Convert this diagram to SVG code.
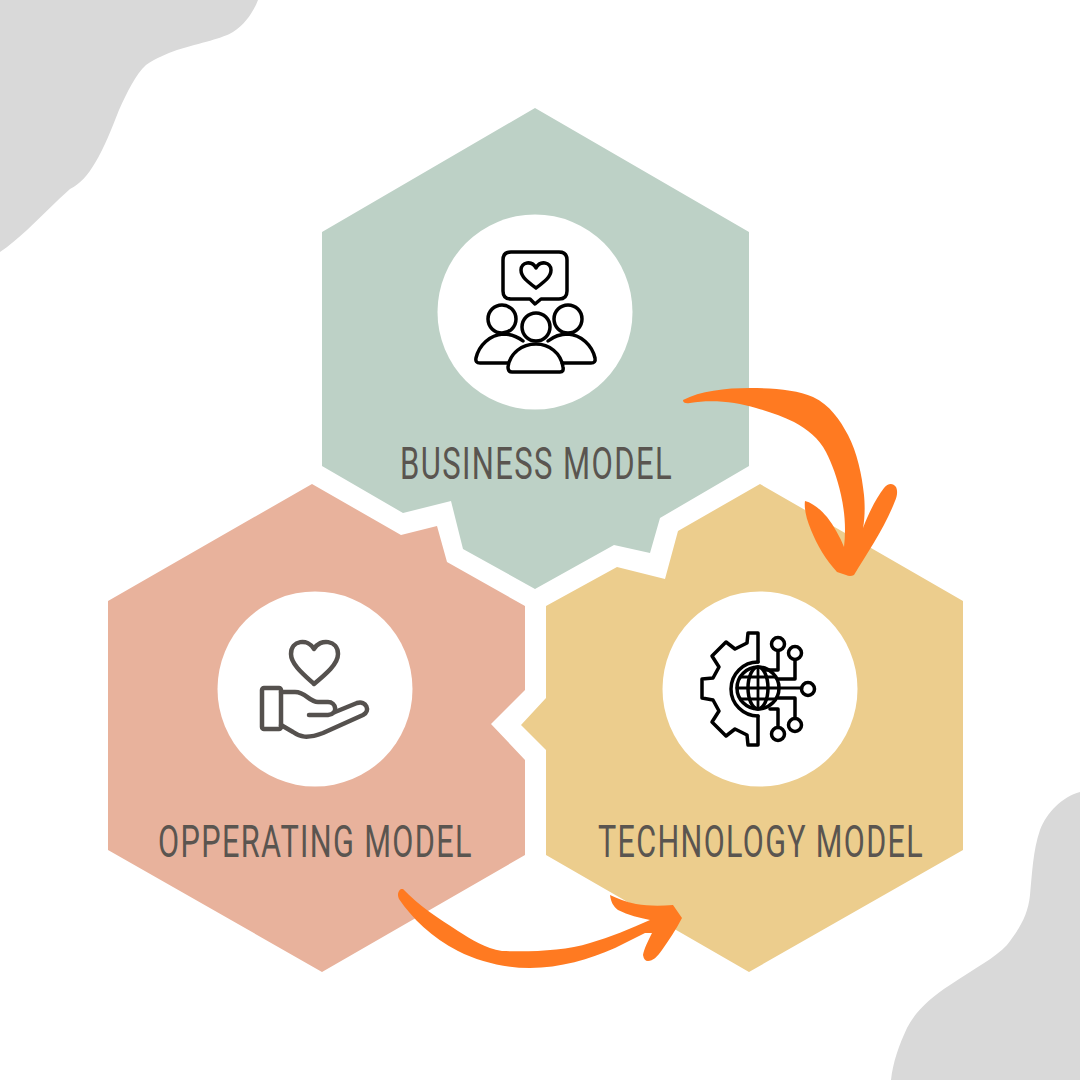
<svg xmlns="http://www.w3.org/2000/svg" width="1080" height="1080" viewBox="0 0 1080 1080">
<style>
.blob{fill:#d9d9d9}
.disc{fill:#fff}
.lbl{font-family:"Roboto","Liberation Sans",sans-serif;font-size:45px;letter-spacing:2px;fill:#5a5550}
.ico{fill:none;stroke:#000;stroke-width:3.500;stroke-linecap:round;stroke-linejoin:round}
.ico2{fill:none;stroke:#55514e;stroke-width:4.500;stroke-linecap:round;stroke-linejoin:round}
.arrow{fill:#ff7a21}
</style>
<rect width="1080" height="1080" fill="#fff"/>
<path class="blob" d="M0 0H258C253 13 244 25 233 32C224 38 200 43 177 50C166 54 156 58 146 65C136 74 127 92 119 110C112 128 104 148 95 163C88 175 80 184 70 189C55 202 42 216 27 230C18 238 9 246 0 252Z"/>
<path class="blob" d="M1080 792C1062 797 1047 812 1040 830C1033 850 1032 875 1030 895C1028 915 1020 928 1007 945C995 958 975 968 950 985C930 998 915 1012 907 1028C899 1045 893 1062 891 1080H1080Z"/>
<g id="node-business">
<polygon fill="#bdd1c6" points="535,108 749,232 749,466 660,518 650,553 614,545 535,589 463,549 451,501 403,513 322,466 322,232"/>
<circle class="disc" cx="535" cy="312" r="97.500"/>
<g class="ico">
<path d="M511 252H559Q567 252 567 260V291Q567 299 559 299H541L535 304L530 299H511Q503 299 503 291V260Q503 252 511 252Z"/>
<path d="M536 288C528 282 521 277 521 270C521 262 532 260 536 268C540 260 551 262 551 270C551 277 544 282 536 288Z"/>
<circle cx="502" cy="319" r="14"/>
<circle cx="536" cy="327" r="14"/>
<circle cx="568" cy="319" r="14"/>
<path d="M508 363H480Q475 363 476 358C479 345 490 335 503 334C512 334 518 337 523 341"/>
<path d="M562 363H591Q596 363 595 358C592 345 581 335 568 334C559 334 553 337 548 341"/>
<path d="M512 372H560Q564 372 563 367C561 353 549 344 536 344C522 344 510 353 508 367Q508 372 512 372Z"/>
</g>
<text class="lbl" x="400" y="479" textLength="273" lengthAdjust="spacingAndGlyphs">BUSINESS MODEL</text>
</g>
<g id="node-operating">
<polygon fill="#e8b29c" points="312,484 401,535 437,526 447,562 525,606 525,690 491,724 525,760 525,855 322,972 108,850 108,601"/>
<circle class="disc" cx="315" cy="689" r="97.500"/>
<g class="ico2">
<path d="M314 684C303 674 291 664 291 654C291 640 308 638 314 649C320 638 338 640 338 654C338 664 326 674 314 684Z"/>
<rect x="262" y="688" width="19" height="41" rx="2"/>
<path d="M281 692H295C306 692 309 702 318 702H328C336 702 339 714 328 715H309"/>
<path d="M335 712L357 703C366 700 371 711 363 715L323 733C307 739 300 737 293 732L281 725"/>
</g>
<text class="lbl" x="158" y="857" textLength="315" lengthAdjust="spacingAndGlyphs">OPPERATING MODEL</text>
</g>
<g id="node-technology">
<polygon fill="#eccd8d" points="760,484 963,601 963,850 749,972 546,855 546,750 521,725 546,698 546,606 617,567 665,579 678,531"/>
<circle class="disc" cx="760" cy="689" r="97.500"/>
<g class="ico" stroke-linecap="butt">
<path d="M758 662V633H748L747 643L735 649L726 642L712 656L719 667L713 678L702 679V698L713 700L719 711L712 722L726 736L735 729L747 735L748 745H758V716"/>
<path d="M758 662A27 27 0 0 0 758 716"/>
<circle cx="758" cy="688" r="21"/>
<ellipse cx="758" cy="688" rx="10" ry="21"/>
<path d="M758 667V709M737 688H802M741 677H775M741 699H775" stroke-width="2.800"/>
<circle cx="778" cy="644" r="6.500"/>
<circle cx="795" cy="653" r="6.500"/>
<circle cx="808" cy="689" r="6.500"/>
<circle cx="795" cy="725" r="6.500"/>
<circle cx="778" cy="734" r="6.500"/>
<path d="M778 651V670H766M795 660V679H778M778 698H795V718M770 709H778V727"/>
</g>
<text class="lbl" x="598" y="857" textLength="326" lengthAdjust="spacingAndGlyphs">TECHNOLOGY MODEL</text>
</g>
<g id="connectors">
<path class="arrow" d="M683 400C700 391 725 388 750 388C775 388 797 390 813 397C830 405 840 420 848 435C857 452 862 475 864 495C865 505 865 518 863 528C869 512 877 497 884 488C888 483 893 483 896 487C898 491 897 497 895 501C885 527 868 552 854 575Q850 577 846 575L837 572C826 560 817 545 811 530C806 518 804 508 805 501C813 503 821 510 827 517C834 526 840 537 844 547C846 530 845 513 841 495C837 477 832 464 826 452C819 438 807 429 794 422C782 416 770 412 756 408C736 402 712 399 690 403Q683 404 683 400Z"/>
<path class="arrow" d="M401 889C398 891 397 895 399 899C412 918 432 938 458 951C480 962 505 968 530 968C560 968 590 959 615 948L645 933L652 933C648 941 644 949 643 955Q644 961 648 961C653 961 657 957 662 950C668 941 676 930 682 918L673 905C660 906 648 906 636 904C626 902 617 898 610 895C611 902 613 906 618 910C628 915 640 918 650 920C630 929 610 937 590 943C565 951 530 952 502 951C485 948 472 940 458 931C438 918 418 905 403 889Z"/>
</g>
</svg>
